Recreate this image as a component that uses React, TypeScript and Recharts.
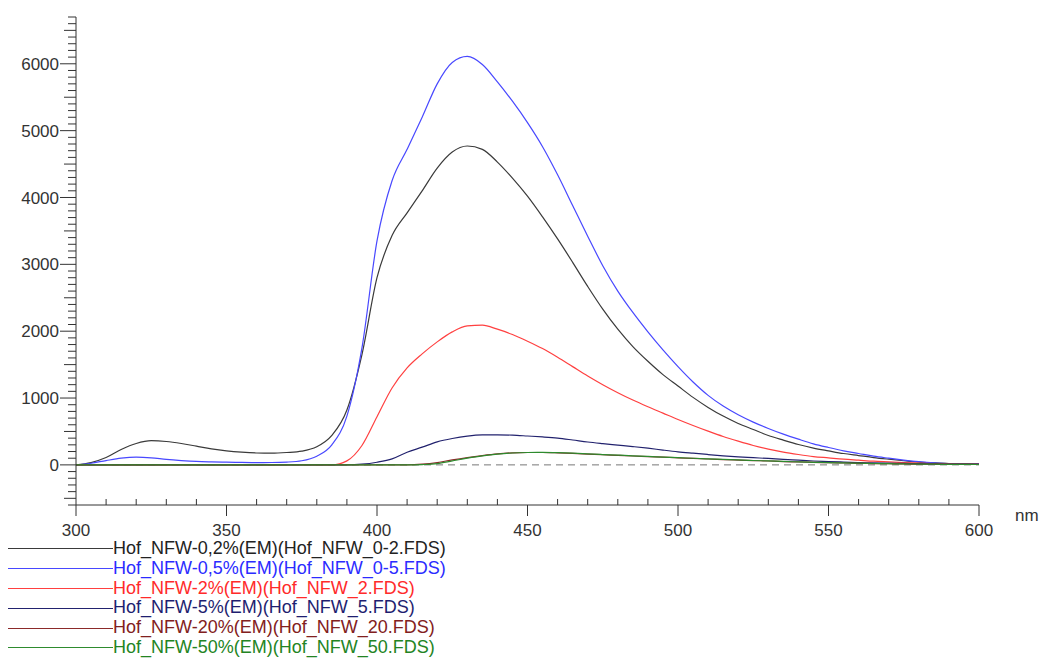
import React from 'react';
import { LineChart, Line, XAxis, YAxis, ReferenceLine, Label } from 'recharts';

// emission wavelengths, nm
const wavelengths = [
  300, 305, 310, 315, 320, 325, 330, 335, 340, 345, 350, 355, 360, 365, 370, 375, 380, 385, 390, 395,
  400, 405, 410, 415, 420, 425, 430, 435, 440, 445, 450, 455, 460, 465, 470, 475, 480, 485, 490, 495,
  500, 505, 510, 515, 520, 525, 530, 535, 540, 545, 550, 555, 560, 565, 570, 575, 580, 585, 590, 595, 600,
];

const em02 = [
  0, 35, 110, 230, 320, 362, 350, 320, 280, 240, 210, 190, 178, 175, 185, 205, 270, 440, 820, 1650,
  2800, 3430, 3770, 4100, 4440, 4680, 4770, 4720, 4530, 4290, 4020, 3710, 3380, 3030, 2670, 2330, 2030, 1770, 1550, 1350,
  1180, 1010, 860, 730, 620, 530, 440, 370, 305, 252, 210, 170, 140, 110, 85, 62, 42, 30, 20, 15, 10,
];

const em05 = [
  0, 25, 65, 100, 115, 105, 82, 65, 52, 45, 40, 37, 35, 36, 42, 62, 130, 300, 730, 1750,
  3350, 4250, 4720, 5200, 5700, 6020, 6110, 5990, 5730, 5440, 5120, 4760, 4340, 3880, 3420, 2980, 2600, 2280, 1990, 1720,
  1470, 1240, 1040, 880, 750, 640, 545, 460, 385, 315, 260, 210, 170, 130, 100, 72, 48, 30, 20, 13, 10,
];

const em2 = [
  0, 0, 0, 0, 0, 0, 0, 0, 0, 0, 0, 0, 0, 0, 0, 0, 0, 0, 60, 290,
  720, 1150, 1450, 1660, 1840, 1990, 2080, 2090, 2030, 1950, 1850, 1740, 1610, 1470, 1330, 1200, 1080, 970, 870, 775,
  680, 590, 505, 425, 355, 290, 235, 190, 155, 125, 105, 85, 70, 55, 45, 35, 27, 20, 15, 12, 10,
];

const em5 = [
  0, 0, 0, 0, 0, 0, 0, 0, 0, 0, 0, 0, 0, 0, 0, 0, 0, 0, 0, 10,
  40, 90, 190, 265, 345, 395, 430, 448, 450, 445, 432, 418, 400, 372, 342, 318, 296, 274, 250, 222,
  196, 175, 155, 136, 120, 108, 96, 82, 70, 58, 50, 42, 35, 30, 25, 22, 18, 15, 12, 10, 10,
];

const em20 = [
  0, 0, 0, 0, 0, 0, 0, 0, 0, 0, 0, 0, 0, 0, 0, 0, 0, 0, 0, 0,
  0, 0, 0, 10, 35, 75, 110, 140, 165, 180, 185, 185, 180, 172, 162, 152, 143, 133, 124, 115,
  106, 98, 88, 80, 72, 65, 58, 50, 44, 38, 33, 28, 24, 20, 17, 14, 12, 10, 8, 7, 6,
];

const em50 = [
  0, 0, 0, 0, 0, 0, 0, 0, 0, 0, 0, 0, 0, 0, 0, 0, 0, 0, 0, 0,
  0, 0, 0, 5, 20, 60, 100, 135, 162, 178, 185, 187, 183, 175, 165, 155, 146, 136, 126, 117,
  108, 99, 90, 82, 74, 66, 59, 52, 45, 39, 34, 29, 25, 21, 18, 15, 12, 10, 8, 7, 6,
];

const series = [
  { key: 'em02', name: 'Hof_NFW-0,2%(EM)(Hof_NFW_0-2.FDS)', color: '#3a3a3a', text: '#222222' },
  { key: 'em05', name: 'Hof_NFW-0,5%(EM)(Hof_NFW_0-5.FDS)', color: '#4848ff', text: '#2b2bff' },
  { key: 'em2', name: 'Hof_NFW-2%(EM)(Hof_NFW_2.FDS)', color: '#ff4040', text: '#ff2a2a' },
  { key: 'em5', name: 'Hof_NFW-5%(EM)(Hof_NFW_5.FDS)', color: '#22226e', text: '#1e1e70' },
  { key: 'em20', name: 'Hof_NFW-20%(EM)(Hof_NFW_20.FDS)', color: '#8b2a2a', text: '#822020' },
  { key: 'em50', name: 'Hof_NFW-50%(EM)(Hof_NFW_50.FDS)', color: '#2e8b2e', text: '#238423' },
];

const data = wavelengths.map((nm, i) => ({
  nm,
  em02: em02[i],
  em05: em05[i],
  em2: em2[i],
  em5: em5[i],
  em20: em20[i],
  em50: em50[i],
}));

const yTicks: number[] = [];
for (let v = -600; v <= 6700; v += 100) yTicks.push(v);
const xTicks: number[] = [];
for (let v = 300; v <= 600; v += 10) xTicks.push(v);

const FONT = '"Liberation Sans", Arial, sans-serif';
const AXIS = '#333';

function YTick({ x, y, payload }: any) {
  const v = payload.value;
  const major = v % 1000 === 0;
  const mid = !major && v % 500 === 0;
  const len = major ? 16 : mid ? 12 : 8;
  return (
    <g>
      <line x1={x - len} x2={x} y1={y} y2={y} stroke={AXIS} strokeWidth={1} />
      {major && (
        <text x={x - 17} y={y} dy="0.36em" textAnchor="end" fontSize={17} fill="#333" fontFamily={FONT}>
          {v}
        </text>
      )}
    </g>
  );
}

function XTick({ x, y, payload }: any) {
  const v = payload.value;
  const major = v % 50 === 0;
  return (
    <g>
      {major
        ? <line x1={x} x2={x} y1={y} y2={y + 11} stroke={AXIS} />
        : <line x1={x} x2={x} y1={y - 6} y2={y} stroke={AXIS} />}
      {major && (
        <text x={x} y={y + 31} textAnchor="middle" fontSize={17} fill="#333" fontFamily={FONT}>
          {v}
        </text>
      )}
    </g>
  );
}

export default function App() {
  return (
    <div style={{ position: 'relative', width: 1043, height: 658, fontFamily: FONT, background: '#fff', overflow: 'hidden' }}>
      <style>{'body{margin:0}'}</style>
      <LineChart width={1043} height={543} data={data} margin={{ top: 17, right: 64, bottom: 8, left: 8 }}>
        <XAxis
          dataKey="nm"
          type="number"
          domain={[300, 600]}
          ticks={xTicks}
          interval={0}
          height={30}
          tickSize={0}
          tickMargin={0}
          tickLine={false}
          axisLine={{ stroke: AXIS }}
          tick={(p: any) => <XTick {...p} />}
        >
          <Label
            content={(p: any) => (
              <text
                x={p.viewBox.x + p.viewBox.width + 36}
                y={p.viewBox.y + 16}
                fontSize={17}
                fill="#333"
                fontFamily={FONT}
              >
                nm
              </text>
            )}
          />
        </XAxis>
        <YAxis
          type="number"
          domain={[-600, 6700]}
          ticks={yTicks}
          interval={0}
          width={68}
          tickSize={0}
          tickMargin={0}
          tickLine={false}
          axisLine={{ stroke: AXIS }}
          tick={(p: any) => <YTick {...p} />}
        />
        <ReferenceLine y={0} stroke="#777" strokeDasharray="7 5" />
        {series.map(s => (
          <Line
            key={s.key}
            dataKey={s.key}
            name={s.name}
            type="monotone"
            stroke={s.color}
            strokeWidth={1.2}
            dot={false}
            activeDot={false}
            isAnimationActive={false}
          />
        ))}
      </LineChart>

      <div style={{ position: 'absolute', left: 8, top: 539 }}>
        {series.map(s => (
          <div key={s.key} style={{ display: 'flex', alignItems: 'center', height: 19.8 }}>
            <div style={{ width: 105, borderTop: `1px solid ${s.color}` }} />
            <span style={{ fontSize: 18, lineHeight: '19.8px', color: s.text, whiteSpace: 'nowrap' }}>{s.name}</span>
          </div>
        ))}
      </div>
    </div>
  );
}
